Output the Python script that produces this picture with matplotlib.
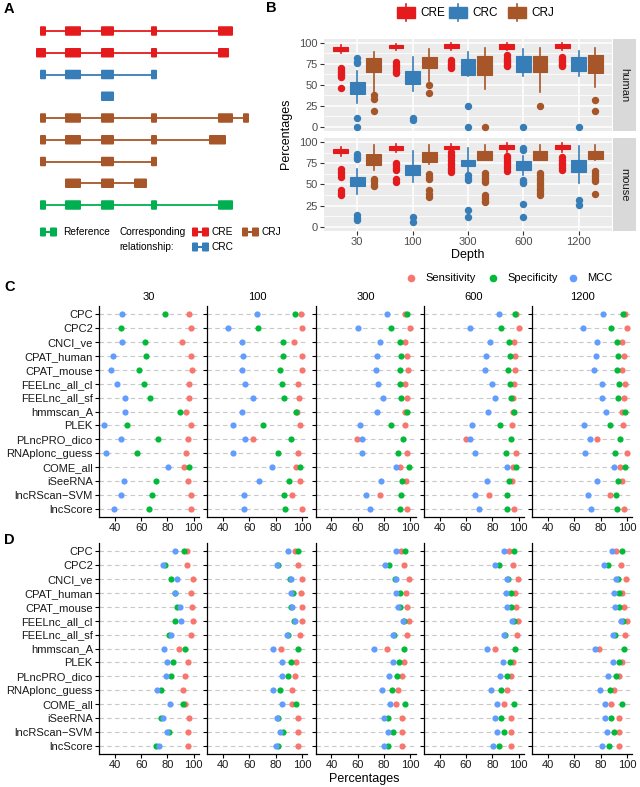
import matplotlib.pyplot as plt
from matplotlib.patches import FancyBboxPatch, Rectangle
from matplotlib.lines import Line2D
import numpy as np

plt.rcParams['font.family'] = ['Liberation Sans', 'DejaVu Sans']

W, H = 640, 787
fig = plt.figure(figsize=(6.4, 7.87), dpi=100)


def box(l, t, r, b):
    # pixel rectangle -> figure fraction
    return [l / W, 1 - b / H, (r - l) / W, (b - t) / H]


# ---------------- data ----------------
# panel A: exon structures (schematic x units)
A_kinds = ['CRE', 'CRE', 'CRC', 'CRC', 'CRJ', 'CRJ', 'CRJ', 'CRJ', 'Reference']
A_exons = [
    [(40, 46), (65, 81), (101, 114), (151, 157), (218, 233)],
    [(36, 46), (65, 81), (101, 114), (151, 157), (218, 229)],
    [(40, 46), (65, 81), (101, 114), (151, 157)],
    [(101, 114)],
    [(40, 46), (65, 81), (101, 114), (151, 157), (218, 233), (243, 249)],
    [(40, 46), (65, 81), (101, 114), (151, 157), (209, 226)],
    [(40, 46), (101, 114), (151, 157)],
    [(65, 81), (101, 114), (134, 147)],
    [(40, 46), (65, 81), (101, 114), (151, 157), (218, 233)],
]
kind_colors = {'CRE': '#E41A1C', 'CRC': '#377EB8', 'CRJ': '#A65628', 'Reference': '#00B050'}

# panel B: boxplot summaries (percentages)
depths = ['30', '100', '300', '600', '1200']
types = ['CRE', 'CRC', 'CRJ']

human_q1 = {'CRE': [90.2, 93.3, 94, 93, 94], 'CRC': [39, 51.2, 61.8, 65.7, 66.5], 'CRJ': [64.6, 69.7, 62, 64.6, 63.8]}
human_med = {'CRE': [92.5, 95, 96.5, 96.5, 96.5], 'CRC': [46, 58, 73, 75, 75], 'CRJ': [72, 77, 73, 75, 75]}
human_q3 = {'CRE': [95.3, 97, 98.5, 98.5, 98.5], 'CRC': [53.1, 66.5, 80.3, 84.3, 83.5], 'CRJ': [81.5, 83.5, 84, 84.3, 85.4]}
human_lo = {'CRE': [87.4, 91, 91.5, 91, 91.5], 'CRC': [28, 42, 60.6, 60, 60.6], 'CRJ': [39, 54, 45, 41, 47]}
human_hi = {'CRE': [97, 98.5, 99.5, 99.5, 99.5], 'CRC': [66.5, 82.7, 89.4, 92, 90], 'CRJ': [89.4, 93, 94, 94, 94]}
human_out = {
    'CRE': [[70, 67, 65, 63, 61, 59, 46], [77, 74, 71, 68, 65, 64], [79, 77, 75, 73, 71, 70],
            [85, 82, 80, 78, 76, 74, 72], [83, 81, 79, 77, 75, 73, 72]],
    'CRC': [[81.5, 77, 75.6, 10.6, 0], [10.6, 8], [24.4, 0], [0], [0]],
    'CRJ': [[38, 33, 19], [50, 40], [0], [25], [31.5, 18.5]],
}

mouse_q1 = {'CRE': [87, 91, 92, 92, 92], 'CRC': [47.8, 61.6, 71.4, 67.5, 64.7], 'CRJ': [72.5, 76.5, 79, 79.2, 80.4]}
mouse_med = {'CRE': [89.5, 93, 94, 95, 95], 'CRC': [53, 67, 75, 72, 71], 'CRJ': [79, 82, 84, 84, 85]}
mouse_q3 = {'CRE': [92, 96, 96, 97, 97], 'CRC': [58.8, 72.5, 79.2, 77.6, 78.4], 'CRJ': [86, 88, 90, 90, 90]}
mouse_lo = {'CRE': [84, 88, 89, 89, 89], 'CRC': [39, 53, 62.7, 60.8, 51.8], 'CRJ': [67.5, 74.5, 78.4, 78.4, 78.4]}
mouse_hi = {'CRE': [94, 97.5, 97.5, 98.5, 98.5], 'CRC': [68.6, 90, 93, 84, 95], 'CRJ': [97, 97, 97, 97, 97]}
mouse_out = {
    'CRE': [[68, 65, 62, 59, 43, 40, 37], [76, 73, 70, 67, 57, 53], [88, 85, 82, 79, 76, 73, 70, 67, 65],
            [84, 81, 78, 75, 72, 69, 66], [82, 79, 76, 73, 70, 67]],
    'CRC': [[86, 83, 80, 13.7, 10, 7.8], [11.8, 5.9], [60.8, 58, 55, 20.4, 11.8],
            [93, 91, 55.7, 53, 51.8, 26.7, 11.8], [32, 25.5]],
    'CRJ': [[57, 54, 51, 48], [62, 59, 56, 43, 39, 35], [64, 61, 58, 55, 53, 37, 34, 31, 29],
            [64, 61, 58, 55, 52, 49, 46, 43, 40, 37], [66, 63, 60, 57, 54, 39]],
}

# panels C and D: tool performance
methods = ['CPC', 'CPC2', 'CNCI_ve', 'CPAT_human', 'CPAT_mouse', 'FEELnc_all_cl', 'FEELnc_all_sf',
           'hmmscan_A', 'PLEK', 'PLncPRO_dico', 'RNAplonc_guess', 'COME_all', 'iSeeRNA',
           'lncRScan\u2212SVM', 'lncScore']
nan = np.nan
C_sens = {
    '30': [96.7, 98.2, 91.4, 98.0, 98.7, 96.5, 96.2, 94.2, 97.7, 95.4, 94.4, 92.4, 95.4, 98.2, 98.2],
    '100': [99.4, 100, 93.7, 99.7, 100, 96.9, 97.7, 96.0, 98.7, 62.7, 97.2, 95.4, 98.7, 92.4, 99.7],
    '300': [96.0, 100, 96.0, 97.6, 98.1, 95.6, 97.6, 96.0, 96.0, 59.4, 97.1, 91.9, 96.8, 77.0, 97.6],
    '600': [98.2, 100, 96.1, 96.9, 97.1, 96.3, 96.0, 95.6, 94.8, 60.1, 97.9, 95.8, 94.8, 77.8, 96.3],
    '1200': [98.5, 100, 96.0, 97.5, 96.2, 98.2, 97.5, 96.0, 96.7, 77.4, 100, 94.6, 96.0, 86.9, 97.5],
}
C_spec = {
    '30': [78.0, 44.8, 63.3, 63.8, 58.7, 62.0, 67.0, 89.4, 49.4, 72.7, 57.0, 96.2, 71.3, 68.6, 65.8],
    '100': [94.4, 66.7, 85.6, 85.3, 83.3, 84.6, 86.1, 95.4, 70.7, 91.4, 81.6, 98.7, 90.4, 86.6, 87.1],
    '300': [97.4, 85.2, 92.5, 93.0, 92.0, 92.5, 93.0, 97.1, 85.5, 94.8, 90.4, 98.7, 94.0, 92.7, 92.0],
    '600': [96.9, 86.6, 92.4, 93.2, 91.9, 93.7, 94.0, 96.6, 86.0, 94.2, 90.5, 97.9, 92.6, 91.3, 91.3],
    '1200': [97.2, 87.9, 92.1, 93.4, 92.6, 93.9, 93.4, 98.8, 87.2, 94.4, 90.8, 98.8, 93.4, 91.8, 92.3],
}
C_mcc = {
    '30': [45.6, nan, 45.6, 38.7, 37.2, 41.3, 47.6, 48.1, 31.6, 45.0, 33.2, 80.5, 47.3, 45.0, 39.7],
    '100': [65.9, 43.8, 54.1, 55.1, 54.6, 56.9, 62.7, 54.1, 47.6, 56.4, 47.6, 77.3, 67.2, 55.6, 55.6],
    '300': [81.9, 60.2, 77.0, 74.4, 73.6, 75.4, 79.3, 74.9, 62.0, 63.3, 63.3, 89.1, 77.7, 66.1, 69.7],
    '600': [85.0, 63.0, 78.6, 75.2, 74.1, 80.0, 82.0, 77.0, 64.6, 63.3, 67.0, 91.3, 75.7, 66.5, 70.2],
    '1200': [82.0, 66.5, 77.4, 76.6, 75.0, 80.7, 81.2, 84.3, 67.6, 72.0, 67.8, 90.5, 77.6, 70.2, 72.7],
}
D_sens = {
    '30': [94.9, 95.2, 99.5, 97.7, 99.0, 99.7, 97.7, 88.6, 95.7, 93.7, 92.2, 93.2, 96.2, 95.7, 96.0],
    '100': [94.6, 97.2, 100, 99.3, 100, 100, 98.8, 84.0, 95.4, 94.9, 92.6, 92.3, 97.2, 96.7, 96.7],
    '300': [92.9, 94.9, 98.7, 96.9, 97.7, 99.2, 97.2, 82.6, 94.9, 93.4, 90.4, 89.1, 93.9, 93.9, 93.9],
    '600': [92.8, 95.9, 99.3, 97.5, 98.2, 99.8, 98.5, 82.0, 95.7, 94.1, 90.8, 88.5, 94.1, 94.4, 94.4],
    '1200': [91.8, 95.5, 99.0, 96.5, 97.8, 99.8, 98.3, 79.0, 96.0, 93.8, 90.3, 88.0, 93.8, 94.3, 93.8],
}
D_spec = {
    '30': [92.4, 78.2, 83.0, 86.0, 87.6, 86.1, 81.3, 93.4, 84.6, 82.8, 75.4, 92.2, 75.4, 81.0, 71.1],
    '100': [96.7, 82.0, 90.5, 92.8, 91.5, 94.0, 89.7, 97.2, 91.5, 89.2, 83.6, 95.4, 82.0, 85.9, 82.0],
    '300': [96.2, 83.6, 88.1, 91.9, 92.4, 95.4, 87.9, 95.2, 91.6, 89.9, 85.8, 95.7, 82.8, 87.1, 83.1],
    '600': [96.7, 85.1, 91.8, 93.9, 93.9, 96.7, 90.0, 97.2, 93.6, 91.3, 86.4, 96.2, 86.4, 88.5, 85.4],
    '1200': [96.5, 85.8, 93.0, 93.8, 94.3, 96.8, 91.3, 98.0, 93.8, 92.0, 87.0, 96.3, 88.0, 90.0, 86.5],
}
D_mcc = {
    '30': [86.1, 76.7, 87.6, 86.1, 89.9, 90.1, 83.0, 77.5, 80.0, 79.2, 72.4, 82.3, 77.0, 80.0, 73.4],
    '100': [89.5, 81.2, 91.5, 91.5, 92.0, 94.6, 88.5, 77.6, 85.1, 84.6, 77.9, 84.6, 81.2, 83.3, 80.5],
    '300': [89.4, 81.0, 89.1, 89.4, 90.4, 94.4, 86.6, 72.7, 86.6, 83.8, 78.8, 84.3, 79.8, 82.8, 79.8],
    '600': [89.0, 82.0, 90.8, 90.3, 91.3, 94.9, 88.5, 75.8, 87.9, 85.6, 79.2, 83.8, 81.8, 83.8, 80.2],
    '1200': [88.3, 82.5, 91.8, 89.8, 91.3, 95.3, 89.5, 76.0, 89.3, 85.8, 79.5, 83.3, 83.0, 85.0, 81.3],
}
metric_names = ['Sensitivity', 'Specificity', 'MCC']
metric_colors = ['#F8766D', '#00BA38', '#619CFF']

# ---------------- overlay (panel A, labels, legends) ----------------
ov = fig.add_axes([0, 0, 1, 1])
ov.set_xlim(0, W)
ov.set_ylim(H, 0)
ov.axis('off')
ov.set_zorder(5)

for lab, x, y in [('A', 4, 9), ('B', 266, 8), ('C', 4, 287), ('D', 4, 540)]:
    ov.text(x, y, lab, fontsize=10.5, fontweight='bold', va='center', ha='left')


def exon(xa, xb, y, c, h=9.5):
    ov.add_patch(FancyBboxPatch((xa + 1, y - h / 2 + 1), xb - xa - 2, h - 2,
                                boxstyle='round,pad=1', fc=c, ec='none'))


for i, (kind, ex) in enumerate(zip(A_kinds, A_exons)):
    y = 31 + i * 21.75
    c = kind_colors[kind]
    if len(ex) > 1:
        ov.plot([ex[0][0], ex[-1][1]], [y, y], color=c, lw=1.3, solid_capstyle='butt')
    for xa, xb in ex:
        exon(xa, xb, y, c)


def gene_icon(x, y, c):
    ov.plot([x + 3, x + 14], [y, y], color=c, lw=1.5)
    exon(x, x + 6, y, c, h=9)
    exon(x + 10, x + 17, y, c, h=9)


gene_icon(40, 232, kind_colors['Reference'])
ov.text(63, 232, 'Reference', fontsize=7.3, va='center')
ov.text(119, 232, 'Corresponding', fontsize=7.3, va='center')
ov.text(119, 247, 'relationship:', fontsize=7.3, va='center')
gene_icon(192, 232, kind_colors['CRE'])
ov.text(212, 232, 'CRE', fontsize=7.3, va='center')
gene_icon(192, 247, kind_colors['CRC'])
ov.text(212, 247, 'CRC', fontsize=7.3, va='center')
gene_icon(242, 232, kind_colors['CRJ'])
ov.text(262, 232, 'CRJ', fontsize=7.3, va='center')

# legend of panel B
for (t, x) in zip(types, [397, 449, 508]):
    c = kind_colors[t]
    ov.plot([x + 9, x + 9], [4, 21], color=c, lw=1.2)
    ov.add_patch(Rectangle((x, 7), 18, 11, fc=c, ec=c))
    ov.text(x + 23, 12.5, t, fontsize=8.5, va='center')

# legend of panel C
for (m, c, x) in zip(metric_names, metric_colors, [411, 493, 573]):
    ov.scatter([x], [278], s=20, color=c)
    ov.text(x + 14, 278, m, fontsize=8, va='center')

# ---------------- panel B ----------------
species = [('human', 38.5, 131, human_q1, human_med, human_q3, human_lo, human_hi, human_out),
           ('mouse', 138, 231, mouse_q1, mouse_med, mouse_q3, mouse_lo, mouse_hi, mouse_out)]
pos = np.arange(len(depths))
for si, (sp, top, bot, q1, med, q3, lo, hi, out) in enumerate(species):
    ax = fig.add_axes(box(324, top, 612, bot))
    ax.set_facecolor('#EBEBEB')
    for s in ax.spines.values():
        s.set_visible(False)
    ax.set_xlim(-0.6, len(depths) - 0.4)
    ax.set_ylim(-5, 105)
    ax.set_yticks([0, 25, 50, 75, 100])
    ax.set_yticks([12.5, 37.5, 62.5, 87.5], minor=True)
    ax.grid(True, which='major', color='white', lw=1.1)
    ax.grid(True, which='minor', axis='y', color='white', lw=0.55)
    ax.set_axisbelow(True)
    ax.set_xticks(pos)
    ax.tick_params(which='minor', length=0)
    ax.tick_params(which='major', length=3, color='#333333', labelsize=8, labelcolor='#4D4D4D', pad=1.5)
    if si == 0:
        ax.tick_params(axis='x', labelbottom=False, length=0)
    else:
        ax.set_xticklabels(depths)
        ax.set_xlabel('Depth', fontsize=9, labelpad=1)
    for k, t in enumerate(types):
        c = kind_colors[t]
        stats = [dict(q1=q1[t][j], med=med[t][j], q3=q3[t][j], whislo=lo[t][j],
                      whishi=hi[t][j], fliers=out[t][j]) for j in range(len(depths))]
        ax.bxp(stats, positions=pos + (k - 1) * 0.3, widths=0.27, patch_artist=True,
               showcaps=False, manage_ticks=False,
               boxprops=dict(facecolor=c, edgecolor=c, lw=0.8),
               whiskerprops=dict(color=c, lw=1.2),
               medianprops=dict(color=c, lw=1),
               flierprops=dict(marker='o', markerfacecolor=c, markeredgecolor=c,
                               markersize=4.3, linestyle='none'))
    st = fig.add_axes(box(613, top, 636, bot))
    st.set_facecolor('#D9D9D9')
    st.set_xticks([])
    st.set_yticks([])
    for s in st.spines.values():
        s.set_visible(False)
    st.text(0.5, 0.5, sp, rotation=-90, ha='center', va='center', fontsize=8,
            color='#1A1A1A', transform=st.transAxes)

ov.text(286, 134, 'Percentages', rotation=90, ha='center', va='center', fontsize=9)

# ---------------- panels C and D ----------------
ypos = np.arange(len(methods))


def dot_panels(top, bot, sens, spec, mcc, strip):
    axes = []
    for i, d in enumerate(depths):
        l = 99 + i * 108.3
        ax = fig.add_axes(box(l, top, l + 100, bot))
        ax.set_xlim(28, 104)
        ax.set_ylim(len(methods) - 0.4, -0.6)
        for y in ypos:
            ax.axhline(y, color='#C8C8C8', lw=0.8, ls=(0, (4, 3)), zorder=0)
        for vals, c in zip([sens[d], spec[d], mcc[d]], metric_colors):
            ax.scatter(vals, ypos, s=20, color=c, zorder=3, linewidths=0)
        for s in ['top', 'right']:
            ax.spines[s].set_visible(False)
        for s in ['left', 'bottom']:
            ax.spines[s].set_linewidth(0.9)
        ax.set_xticks([40, 60, 80, 100])
        ax.set_yticks(ypos)
        ax.tick_params(length=3, width=0.8, labelsize=8, pad=1.5, labelcolor='#1A1A1A')
        if i == 0:
            ax.set_yticklabels(methods)
        else:
            ax.tick_params(axis='y', labelleft=False)
        if strip:
            ax.set_title(d, fontsize=8, pad=4)
        axes.append(ax)
    return axes


dot_panels(306, 517, C_sens, C_spec, C_mcc, True)
dot_panels(543, 754, D_sens, D_spec, D_mcc, False)
ov.text(364, 779, 'Percentages', ha='center', va='center', fontsize=9)

fig.savefig('out.png', dpi=100)
